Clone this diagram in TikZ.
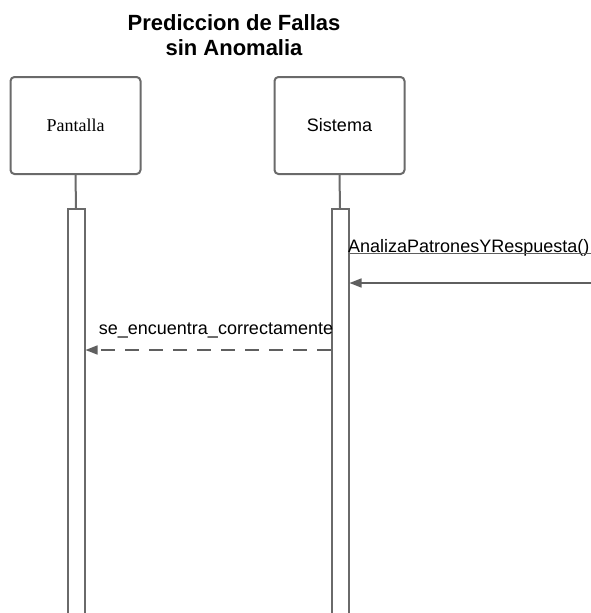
\documentclass[tikz,border=0pt]{standalone}
\usepackage{fontspec}
\setmainfont{Liberation Sans}
\newfontfamily\serifont{Liberation Serif}
\usetikzlibrary{arrows.meta}
\definecolor{linegray}{HTML}{5F5F5F}
\definecolor{boxgray}{HTML}{6A6A6A}
\begin{document}
\begin{tikzpicture}[x=1pt,y=-1pt,
  actor/.style={draw=boxgray,line width=2pt,rounded corners=4pt,minimum width=130pt,minimum height=97pt,inner sep=0pt,fill=white,font=\fontsize{18}{21}\selectfont},
  actbar/.style={draw=boxgray,line width=2pt,minimum width=17pt,minimum height=420pt,inner sep=0pt,fill=white},
  life/.style={draw=boxgray,line width=2pt},
  msg/.style={draw=linegray,line width=1.5pt,-{Triangle[length=12pt,width=9pt]}},
  reply/.style={msg,dash pattern=on 14pt off 10pt},
  lbl/.style={inner sep=0pt,font=\fontsize{18}{21}\selectfont}]
\useasboundingbox (0,0) rectangle (591,613);
\clip (0,0) rectangle (591,613);
\fill[white] (0,0) rectangle (591,613);
\node[align=center,font=\fontsize{22}{25}\selectfont\bfseries] (title) at (234,35) {Prediccion de Fallas\\sin Anomalia};
\node[actor,font=\fontsize{18}{21}\selectfont\serifont] (pant) at (75.5,125.5) {Pantalla};
\node[actor] (sist) at (339.5,125.5) {Sistema};
\node[actbar,anchor=north] (pbar) at (76,208) {};
\node[actbar,anchor=north] (sbar) at (340,208) {};
\draw[life] (pant.south) -- (pbar.north);
\draw[life] (sist.south) -- (sbar.north);
% message 1
\node[lbl,anchor=base west] (l1) at (348,252) {AnalizaPatronesYRespuesta()};
\coordinate (u1) at (591,253.5);
\draw[draw=linegray,line width=1.2pt] (u1 -| sbar.east) -- (u1);
\coordinate (m1) at (592,283);
\draw[msg] (m1) -- (m1 -| sbar.east);
% message 2
\node[lbl,anchor=base] (l2) at (216,334) {se\_encuentra\_correctamente};
\coordinate (m2) at (340,350);
\draw[reply] (m2 -| sbar.west) -- (m2 -| pbar.east);
\end{tikzpicture}
\end{document}
